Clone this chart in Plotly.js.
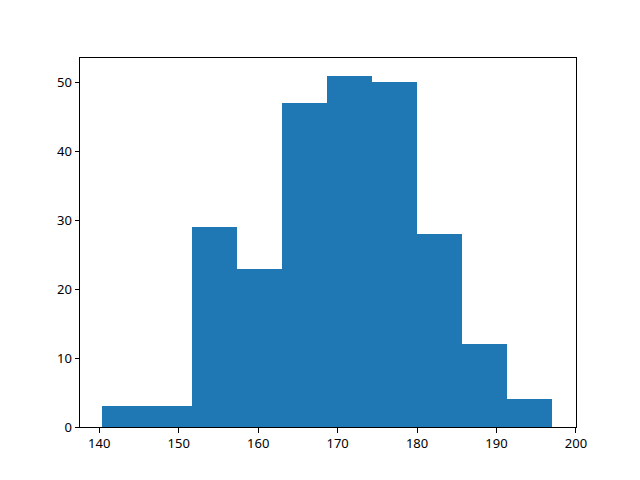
<!DOCTYPE html>
<html>
<head>
<meta charset="utf-8">
<script src="https://cdn.plot.ly/plotly-3.0.1.min.js"></script>
<style>html,body{margin:0;padding:0;background:#fff;}#chart{width:640px;height:480px;}</style>
</head>
<body>
<div id="chart"></div>
<script>
// Histogram data
const binStart = 140.4;
const binWidth = 5.655;
const counts = [3, 3, 29, 23, 47, 51, 50, 28, 12, 4];
const xTicks = [140, 150, 160, 170, 180, 190, 200];
const yTicks = [0, 10, 20, 30, 40, 50];

const centers = counts.map((_, i) => binStart + binWidth * (i + 0.5));
const lo = binStart, hi = binStart + binWidth * counts.length;
const pad = (hi - lo) * 0.05;
const ymax = Math.max(...counts) * 1.05;

const axisCommon = {
  showgrid: false, zeroline: false, showline: true, mirror: true,
  linecolor: '#000', linewidth: 1, ticks: 'outside', ticklen: 4.5,
  tickwidth: 1, tickcolor: '#000',
  tickfont: {family: 'Noto Sans, DejaVu Sans, sans-serif', size: 13, color: '#000'}
};

Plotly.newPlot('chart', [{
  type: 'bar', x: centers, y: counts, width: binWidth,
  marker: {color: '#1f77b4', line: {width: 0}}, hoverinfo: 'skip'
}], {
  width: 640, height: 480,
  margin: {l: 80, r: 64, t: 58, b: 53},
  paper_bgcolor: '#fff', plot_bgcolor: '#fff',
  showlegend: false, bargap: 0,
  xaxis: Object.assign({}, axisCommon, {range: [lo - pad, Math.max(hi + pad, 200.01)], tickvals: xTicks, ticktext: xTicks.map(String)}),
  yaxis: Object.assign({}, axisCommon, {range: [0, ymax], tickvals: yTicks, ticktext: yTicks.map(String)})
}, {displayModeBar: false, staticPlot: true});
</script>
</body>
</html>
